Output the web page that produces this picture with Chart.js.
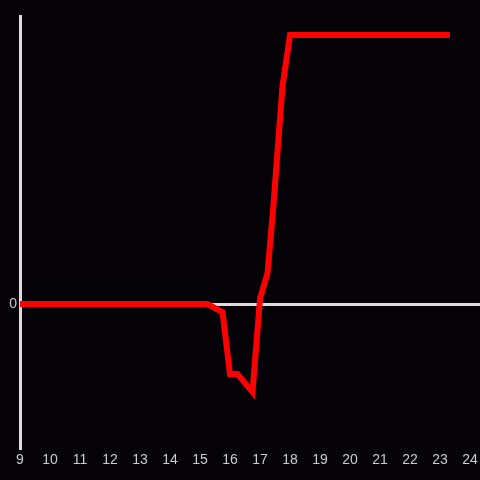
<!DOCTYPE html>
<html>
<head>
<meta charset="utf-8">
<script src="https://cdn.jsdelivr.net/npm/chart.js@4/dist/chart.umd.min.js"></script>
<style>
    html, body { margin: 0; padding: 0; background: #050308; }
    #wrap { width: 480px; height: 480px; }
</style>
</head>
<body>
<div id="wrap"><canvas id="chart"></canvas></div>
<script>
// hour of day (x) and value (y)
const hours = [9, 15.25, 15.75, 16.0, 16.25, 16.75, 17.0, 17.25, 17.45, 17.75, 18.0, 23.33];
const values = [0, 0, -0.3, -2.6, -2.6, -3.27, 0.2, 1.15, 3.7, 8.1, 10, 10];
const xTicks = [9, 10, 11, 12, 13, 14, 15, 16, 17, 18, 19, 20, 21, 22, 23, 24];
const yTicks = [0];

const axisColor = '#dddddd';
const textColor = '#cccccc';

const points = hours.map((h, i) => ({ x: h, y: values[i] }));

new Chart(document.getElementById('chart'), {
    type: 'line',
    data: {
        datasets: [
            {
                data: points,
                borderColor: '#ff0000',
                borderWidth: 6,
                pointRadius: 0,
                tension: 0,
                fill: false,
            },
        ],
    },
    options: {
        responsive: true,
        maintainAspectRatio: false,
        animation: false,
        layout: { padding: { top: 16, right: 0, left: 0, bottom: 0 } },
        plugins: {
            legend: { display: false },
            tooltip: { enabled: false },
        },
        scales: {
            x: {
                type: 'linear',
                min: 9,
                max: 24.333,
                afterBuildTicks: (scale) => {
                    scale.ticks = xTicks.map((v) => ({ value: v }));
                },
                afterFit: (scale) => {
                    scale.height = 32;
                    scale.paddingLeft = 0;
                    scale.paddingRight = 0;
                },
                grid: { display: false, drawTicks: false },
                border: { display: false },
                ticks: {
                    color: textColor,
                    font: { family: 'Liberation Sans', size: 14 },
                    padding: 4,
                    maxRotation: 0,
                    autoSkip: false,
                },
            },
            y: {
                type: 'linear',
                min: -5.35,
                max: 10.71,
                afterBuildTicks: (scale) => {
                    scale.ticks = yTicks.map((v) => ({ value: v }));
                },
                afterFit: (scale) => {
                    scale.width = 20;
                    scale.paddingTop = 0;
                    scale.paddingBottom = 0;
                },
                grid: {
                    drawTicks: false,
                    color: (ctx) => (ctx.tick && ctx.tick.value === 0 ? axisColor : 'rgba(0,0,0,0)'),
                    lineWidth: 3,
                },
                border: { display: true, color: axisColor, width: 3 },
                ticks: {
                    color: textColor,
                    font: { family: 'Liberation Sans', size: 14 },
                    padding: 3,
                },
            },
        },
    },
});
</script>
</body>
</html>
